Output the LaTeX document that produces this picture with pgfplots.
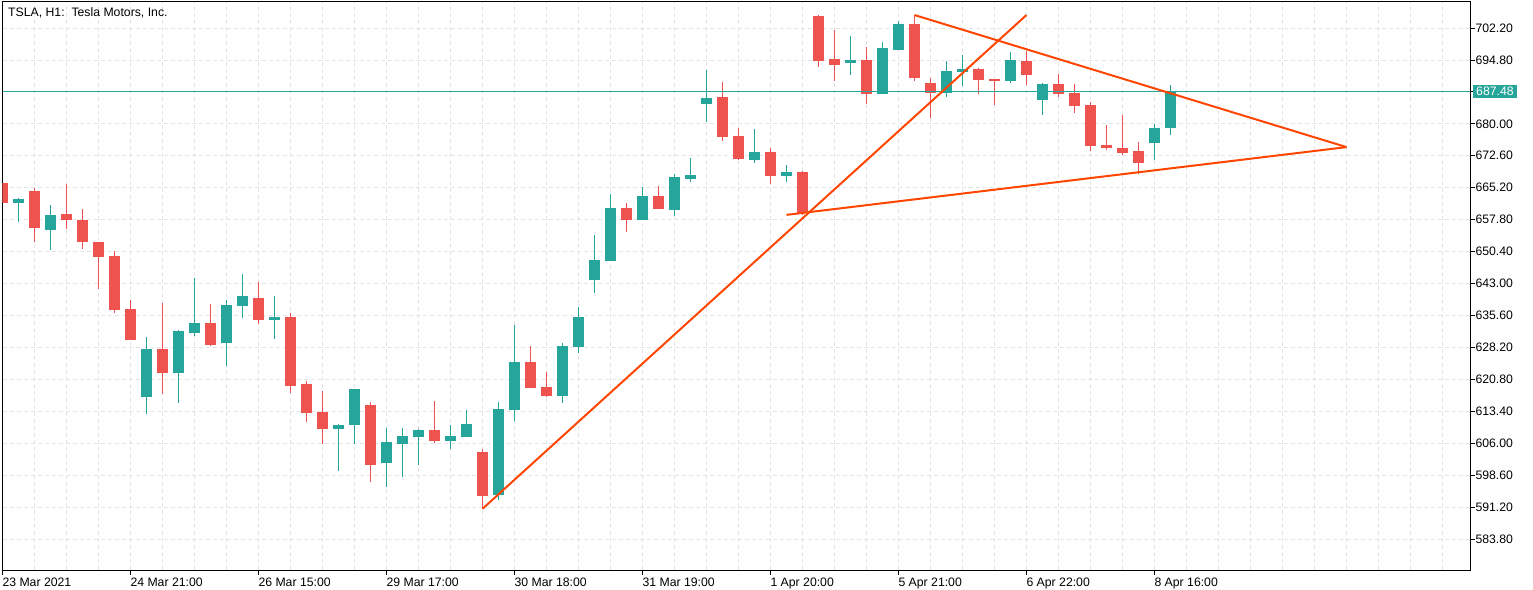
\documentclass[border=0pt]{standalone}
\usepackage{fontspec}
\setmainfont{Liberation Sans}
\usepackage{pgfplots}
\usepackage{pgfplotstable}
\pgfplotsset{compat=1.18}
\definecolor{upc}{RGB}{38,166,154}
\definecolor{dnc}{RGB}{239,83,80}
\definecolor{trend}{RGB}{255,69,0}
\definecolor{gridc}{RGB}{228,228,228}

% bullish candles: x O H L C
\pgfplotstableread{
x O H L C
1 661.7 662.8 657.3 662.6
3 655.5 661.2 650.8 658.9
9 616.8 630.6 612.8 627.8
11 622.3 632.2 615.2 632.0
12 631.6 644.3 630.9 633.9
14 629.1 639.2 624.0 638.0
15 637.9 645.2 634.9 640.1
17 634.6 640.1 630.2 635.2
21 609.4 610.5 599.6 610.2
22 610.3 618.6 605.7 618.6
24 601.3 609.5 595.9 606.3
25 605.9 609.5 598.2 607.7
26 607.5 609.3 601.0 609.1
28 606.6 610.2 604.7 607.7
29 607.5 613.7 607.5 610.5
31 594.1 615.6 592.8 613.9
32 613.8 633.4 611.2 624.8
35 617.0 629.2 615.2 628.5
36 628.4 637.6 627.0 635.2
37 643.8 654.2 640.9 648.5
38 648.3 663.7 648.3 660.5
40 657.8 665.4 657.8 663.3
42 660.1 668.4 658.7 667.7
43 667.3 672.1 666.6 668.1
44 684.7 692.5 680.4 686.0
47 671.7 678.8 671.0 673.5
49 668.0 670.5 666.4 668.8
53 694.2 700.4 691.2 694.8
55 687.0 699.0 686.8 697.6
56 697.1 703.8 697.1 703.1
59 687.2 694.6 686.1 692.2
60 692.1 695.9 688.8 692.7
63 690.0 696.6 689.5 694.8
65 685.4 689.5 682.1 689.2
72 675.6 680.0 671.5 679.0
73 679.1 689.0 677.3 687.48
}\upT

% bearish candles: x O H L C
\pgfplotstableread{
x O H L C
0 666.2 666.3 661.6 661.7
2 664.4 665.1 652.5 655.9
4 659.1 666.1 655.7 657.6
5 657.7 660.2 651.1 652.5
6 652.6 652.6 641.8 649.2
7 649.4 650.5 636.2 636.9
8 637.1 639.2 630.0 630.0
10 627.8 638.5 617.5 622.3
13 633.9 638.3 628.5 628.8
16 639.6 643.4 633.7 634.6
18 635.2 636.2 617.7 619.3
19 619.7 620.4 610.8 613.1
20 613.2 618.1 605.7 609.4
23 614.9 615.6 597.1 601.0
27 609.1 615.8 606.1 606.6
30 604.0 604.7 590.8 593.8
33 624.8 628.5 618.9 618.9
34 619.0 622.5 616.8 617.0
39 660.5 661.7 655.0 657.8
41 663.3 665.6 660.3 660.3
45 686.2 689.7 676.1 677.0
46 677.2 679.0 671.7 671.9
48 673.5 674.4 666.1 668.0
50 668.8 669.1 658.9 659.3
51 705.0 705.2 693.2 694.6
52 695.0 701.7 690.0 693.7
54 694.8 697.8 684.7 687.0
57 703.1 705.2 690.0 690.7
58 689.4 690.6 681.4 687.2
61 692.7 692.9 686.8 690.2
62 690.4 690.4 684.4 690.0
64 694.6 696.9 689.1 691.4
66 689.2 691.5 686.1 686.8
67 687.1 689.2 682.6 684.2
68 684.4 685.1 673.8 674.9
69 675.1 679.7 674.0 674.5
70 674.4 682.0 672.8 673.3
71 673.7 675.8 668.4 671.0
}\dnT

\begin{document}
\begin{tikzpicture}
\begin{axis}[
  at={(0,0)}, anchor=south west,
  scale only axis, width=1467.5bp, height=568bp,
  xmin=0, xmax=91.72, ymin=576.62, ymax=708.22,
  axis line style={line width=1bp, black},
  xtick={0,8,16,24,32,40,48,56,64,72},
  xticklabels={23 Mar 2021,24 Mar 21:00,26 Mar 15:00,29 Mar 17:00,30 Mar 18:00,31 Mar 19:00,1 Apr 20:00,5 Apr 21:00,6 Apr 22:00,8 Apr 16:00},
  minor xtick={2,4,6,10,12,14,18,20,22,26,28,30,34,36,38,42,44,46,50,52,54,58,60,62,66,68,70,74,76,78,80,82,84,86,88,90},
  ytick={583.8,591.2,598.6,606.0,613.4,620.8,628.2,635.6,643.0,650.4,657.8,665.2,672.6,680.0,687.4,694.8,702.2},
  yticklabels={583.80,591.20,598.60,606.00,613.40,620.80,628.20,635.60,643.00,650.40,657.80,665.20,672.60,680.00,,694.80,702.20},
  grid=both,
  major grid style={gridc, line width=0.8bp, dash pattern=on 4bp off 3bp},
  minor grid style={gridc, line width=0.8bp, dash pattern=on 4bp off 3bp},
  xtick pos=bottom, ytick pos=right, yticklabel pos=right,
  tick align=outside, major tick length=5bp, minor tick length=0pt,
  major tick style={black, line width=0.8bp},
  every tick label/.append style={font=\fontsize{12.3}{14}\selectfont, text=black},
  xticklabel style={anchor=north west, xshift=-3.5bp, yshift=1bp},
  yticklabel style={anchor=west, xshift=-3bp},
]
% wicks
\addplot[draw=none, mark=none, forget plot,
  error bars/.cd, y dir=plus, y explicit, error mark=none,
  error bar style={draw=upc, line width=1.1bp}]
  table[x=x, y=L, y error plus expr=\thisrow{H}-\thisrow{L}] {\upT};
\addplot[draw=none, mark=none, forget plot,
  error bars/.cd, y dir=plus, y explicit, error mark=none,
  error bar style={draw=dnc, line width=1.1bp}]
  table[x=x, y=L, y error plus expr=\thisrow{H}-\thisrow{L}] {\dnT};
% bodies
\addplot[draw=none, mark=none, forget plot,
  error bars/.cd, y dir=plus, y explicit, error mark=none,
  error bar style={draw=upc, line width=11bp, line cap=butt}]
  table[x=x, y=O, y error plus expr=\thisrow{C}-\thisrow{O}] {\upT};
\addplot[draw=none, mark=none, forget plot,
  error bars/.cd, y dir=plus, y explicit, error mark=none,
  error bar style={draw=dnc, line width=11bp, line cap=butt}]
  table[x=x, y=C, y error plus expr=\thisrow{O}-\thisrow{C}] {\dnT};
% current price line
\addplot[upc, line width=1bp, forget plot] coordinates {(0,687.48) (91.72,687.48)};
% trend lines
\addplot[trend, line width=2bp, forget plot] coordinates {(30,590.8) (64,705.2)};
\addplot[trend, line width=2bp, forget plot] coordinates {(57,705.2) (84,674.6)};
\addplot[trend, line width=2bp, forget plot] coordinates {(49,658.9) (84,674.6)};
\coordinate (tl) at (rel axis cs:0,1);
\coordinate (pr) at (axis cs:91.72,687.48);
\end{axis}
\node[anchor=base west, inner sep=0pt, font=\fontsize{12.3}{14}\selectfont, xshift=5.5bp, yshift=-14.5bp] at (tl) {TSLA, H1:\ \ Tesla Motors, Inc.};
\node[anchor=west, fill=upc, text=white, inner xsep=3bp, inner ysep=2bp, font=\fontsize{12.3}{14}\selectfont, xshift=3bp] at (pr) {687.48};
\pgfresetboundingbox
\path[use as bounding box] (-2.5bp,-20bp) rectangle (1530.5bp,570bp);
\end{tikzpicture}
\end{document}
